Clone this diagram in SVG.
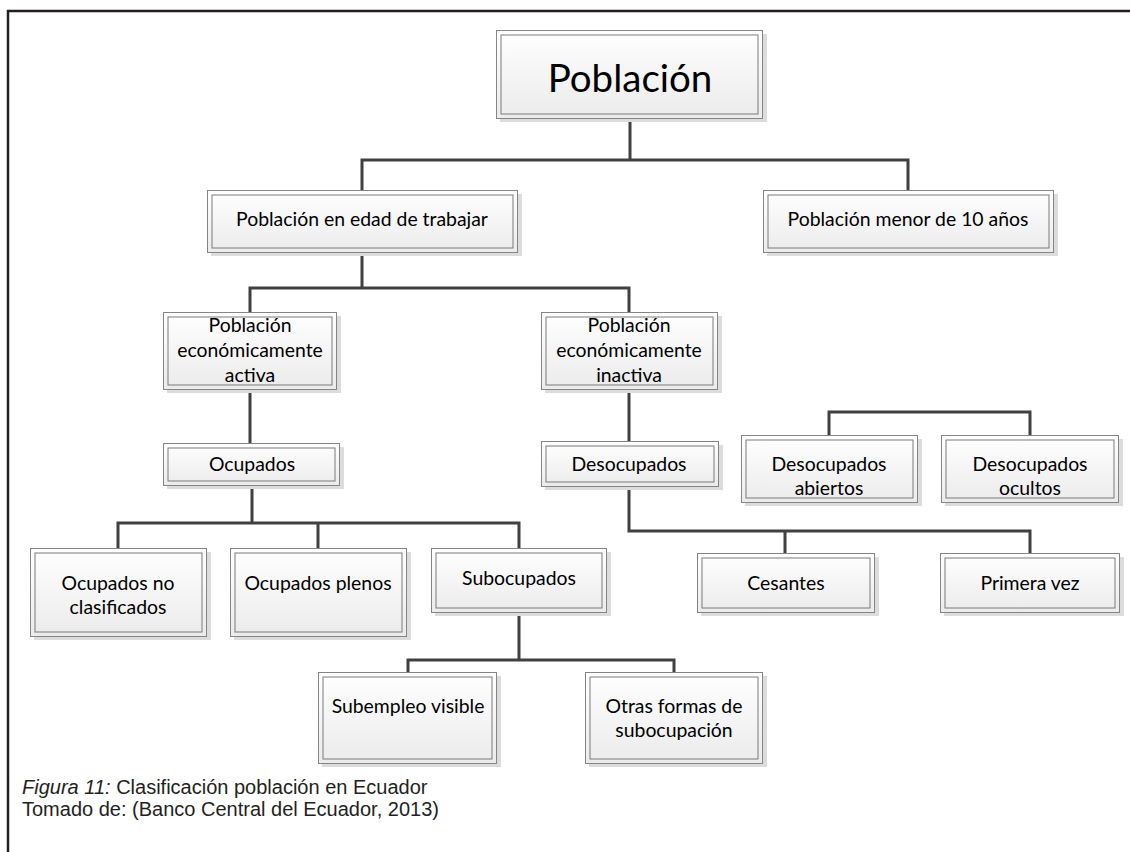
<svg xmlns="http://www.w3.org/2000/svg" width="1130" height="852" viewBox="0 0 1130 852">
<defs>
<linearGradient id="g" x1="0" y1="0" x2="0" y2="1">
<stop offset="0" stop-color="#ffffff"/>
<stop offset="1" stop-color="#ebebeb"/>
</linearGradient>
</defs>
<style>
.sh{fill:#dcdcdc;stroke:none}
.o{fill:url(#g);stroke:#858585;stroke-width:1}
.i{fill:none;stroke:#7a7a7a;stroke-width:1}
.t{font-family:Lato,"Open Sans",sans-serif;font-size:19.4px;fill:#000;text-anchor:middle}
.big{font-size:38.5px}
.c{fill:none;stroke:#404040;stroke-width:3}
.frame{fill:none;stroke:#231f20;stroke-width:2.5}
.cap{font-family:"Liberation Sans",Arial,sans-serif;font-size:20px;fill:#231f20}
</style>
<rect width="1130" height="852" fill="#fff"/>
<path class="frame" d="M8,852 V11 H1130"/>
<g id="connectors">
<path class="c" d="M630,118 V160 M362,190 V160 H908 V190"/>
<path class="c" d="M362,252 V288 M250,312 V288 H629 V312"/>
<path class="c" d="M250,389 V443 M629,389 V441"/>
<path class="c" d="M252,485 V523 M118,548 V523 H519 V548 M318,523 V548"/>
<path class="c" d="M519,612 V660 M408,672 V660 H674 V672"/>
<path class="c" d="M629,486 V531 H1030 V553 M785,531 V553"/>
<path class="c" d="M829,435 V412 H1030 V435"/>
</g>
<g id="poblacion">
<rect class="sh" x="500" y="34" width="267" height="88"/>
<rect class="o" x="496.5" y="30.5" width="266" height="88"/>
<rect class="i" x="501" y="35" width="257" height="79"/>
<text class="t big" x="630" y="92">Población</text>
</g>
<g id="edad-trabajar">
<rect class="sh" x="211" y="194" width="311" height="62"/>
<rect class="o" x="207.5" y="190.5" width="310" height="62"/>
<rect class="i" x="212" y="195" width="301" height="53"/>
<text class="t" x="362" y="226">Población en edad de trabajar</text>
</g>
<g id="menor-10">
<rect class="sh" x="767" y="194" width="291" height="62"/>
<rect class="o" x="763.5" y="190.5" width="290" height="62"/>
<rect class="i" x="768" y="195" width="281" height="53"/>
<text class="t" x="908" y="226">Población menor de 10 años</text>
</g>
<g id="pea">
<rect class="sh" x="167" y="316" width="174" height="77"/>
<rect class="o" x="163.5" y="312.5" width="173" height="77"/>
<rect class="i" x="168" y="317" width="164" height="68"/>
<text class="t" x="250" y="332">Población</text>
<text class="t" x="250" y="357">económicamente</text>
<text class="t" x="250" y="382">activa</text>
</g>
<g id="pei">
<rect class="sh" x="545" y="316" width="177" height="77"/>
<rect class="o" x="541.5" y="312.5" width="176" height="77"/>
<rect class="i" x="546" y="317" width="167" height="68"/>
<text class="t" x="629" y="332">Población</text>
<text class="t" x="629" y="357">económicamente</text>
<text class="t" x="629" y="382">inactiva</text>
</g>
<g id="ocupados">
<rect class="sh" x="167" y="447" width="177" height="42"/>
<rect class="o" x="163.5" y="443.5" width="176" height="42"/>
<rect class="i" x="168" y="448" width="167" height="33"/>
<text class="t" x="252" y="471">Ocupados</text>
</g>
<g id="desocupados">
<rect class="sh" x="545" y="445" width="178" height="45"/>
<rect class="o" x="541.5" y="441.5" width="177" height="45"/>
<rect class="i" x="546" y="446" width="168" height="36"/>
<text class="t" x="629" y="471">Desocupados</text>
</g>
<g id="desocupados-abiertos">
<rect class="sh" x="745" y="439" width="177" height="67"/>
<rect class="o" x="741.5" y="435.5" width="176" height="67"/>
<rect class="i" x="746" y="440" width="167" height="58"/>
<text class="t" x="829" y="471">Desocupados</text>
<text class="t" x="829" y="495">abiertos</text>
</g>
<g id="desocupados-ocultos">
<rect class="sh" x="945" y="439" width="178" height="67"/>
<rect class="o" x="941.5" y="435.5" width="177" height="67"/>
<rect class="i" x="946" y="440" width="168" height="58"/>
<text class="t" x="1030" y="471">Desocupados</text>
<text class="t" x="1030" y="495">ocultos</text>
</g>
<g id="ocupados-no-clasificados">
<rect class="sh" x="34" y="552" width="177" height="88"/>
<rect class="o" x="30.5" y="548.5" width="176" height="88"/>
<rect class="i" x="35" y="553" width="167" height="79"/>
<text class="t" x="118" y="590">Ocupados no</text>
<text class="t" x="118" y="614">clasificados</text>
</g>
<g id="ocupados-plenos">
<rect class="sh" x="234" y="552" width="177" height="88"/>
<rect class="o" x="230.5" y="548.5" width="176" height="88"/>
<rect class="i" x="235" y="553" width="167" height="79"/>
<text class="t" x="318" y="590">Ocupados plenos</text>
</g>
<g id="subocupados">
<rect class="sh" x="435" y="552" width="176" height="64"/>
<rect class="o" x="431.5" y="548.5" width="175" height="64"/>
<rect class="i" x="436" y="553" width="166" height="55"/>
<text class="t" x="519" y="585">Subocupados</text>
</g>
<g id="cesantes">
<rect class="sh" x="701" y="557" width="178" height="59"/>
<rect class="o" x="697.5" y="553.5" width="177" height="59"/>
<rect class="i" x="702" y="558" width="168" height="50"/>
<text class="t" x="786" y="590">Cesantes</text>
</g>
<g id="primera-vez">
<rect class="sh" x="944" y="557" width="180" height="59"/>
<rect class="o" x="940.5" y="553.5" width="179" height="59"/>
<rect class="i" x="945" y="558" width="170" height="50"/>
<text class="t" x="1030" y="590">Primera vez</text>
</g>
<g id="subempleo-visible">
<rect class="sh" x="322" y="676" width="179" height="91"/>
<rect class="o" x="318.5" y="672.5" width="178" height="91"/>
<rect class="i" x="323" y="677" width="169" height="82"/>
<text class="t" x="408" y="713">Subempleo visible</text>
</g>
<g id="otras-formas">
<rect class="sh" x="589" y="676" width="178" height="91"/>
<rect class="o" x="585.5" y="672.5" width="177" height="91"/>
<rect class="i" x="590" y="677" width="168" height="82"/>
<text class="t" x="674" y="713">Otras formas de</text>
<text class="t" x="674" y="737">subocupación</text>
</g>
<g id="caption">
<text class="cap" x="22" y="794"><tspan font-style="italic">Figura 11:</tspan> Clasificación población en Ecuador</text>
<text class="cap" x="22" y="816">Tomado de: (Banco Central del Ecuador, 2013)</text>
</g>
</svg>
